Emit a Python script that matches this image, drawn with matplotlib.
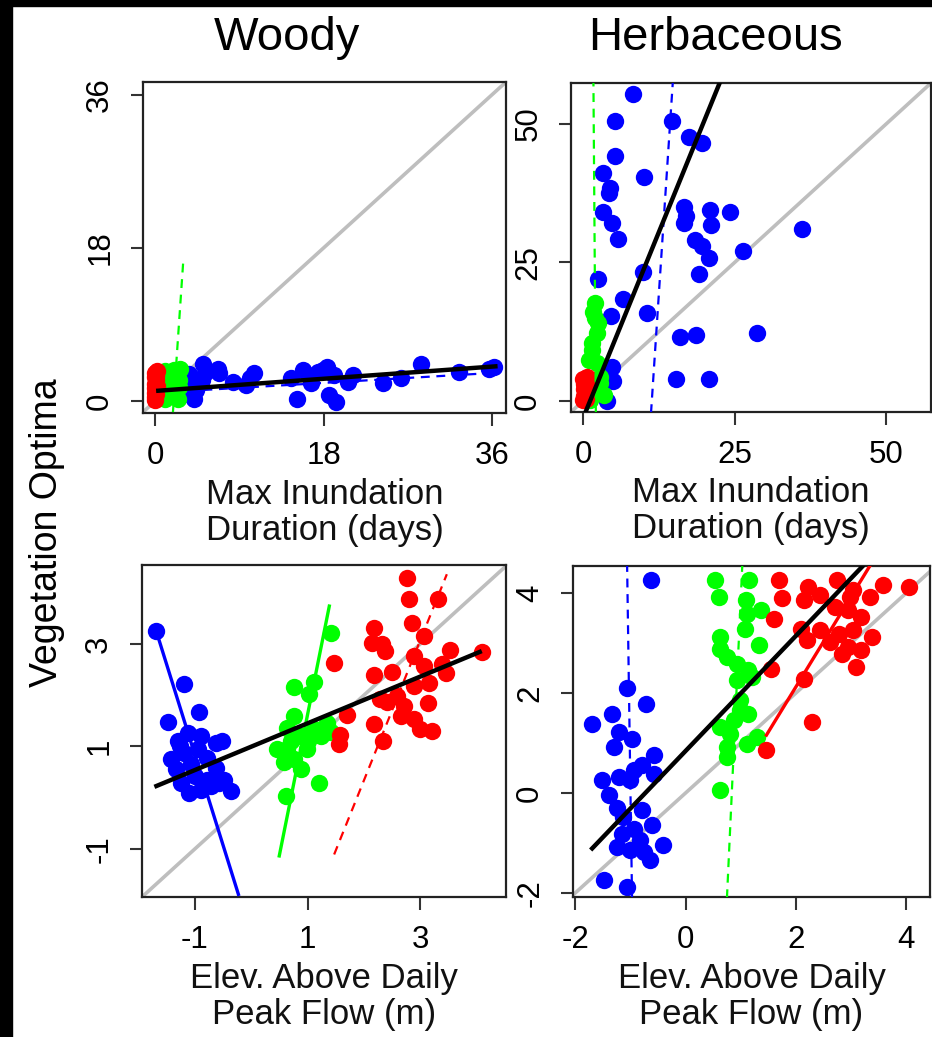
import matplotlib.pyplot as plt
from matplotlib.patches import Rectangle

plt.rcParams['font.family'] = ['Liberation Sans', 'DejaVu Sans']
plt.rcParams['axes.unicode_minus'] = False

BLUE = '#0000FF'
GREEN = '#00FF00'
RED = '#FF0000'
GREY = '#BEBEBE'

# --- Woody, max inundation duration (days) ---
wi_blue_x = [3.85, 4.4, 5.1, 5.3, 5.0, 6.7, 6.8, 8.3, 9.7, 10.6, 10.1, 14.5, 15.2, 15.8, 16.3, 16.7,
             17.4, 17.9, 18.4, 18.6, 19.3, 19.1, 20.6, 21.1, 24.3, 26.3, 28.4, 32.5, 36.25, 35.7,
             3.6, 3.9, 4.2]
wi_blue_y = [0.7, 1.3, 4.4, 3.3, 2.5, 3.8, 3.3, 2.3, 1.9, 3.3, 2.7, 2.7, 0.3, 3.6, 3.1, 2.1,
             3.4, 3.6, 4.0, 0.7, -0.1, 3.1, 2.3, 3.1, 2.1, 2.7, 4.4, 3.4, 4.0, 3.8,
             3.2, 2.0, 0.2]
wi_green_x = [1.0, 1.2, 1.5, 1.8, 2.0, 2.3, 2.6, 1.1, 1.4, 1.7, 2.1, 2.5, 1.3, 1.9, 2.4, 2.7]
wi_green_y = [0.3, 1.0, 2.0, 3.0, 3.7, 3.2, 2.5, 3.5, 0.6, 1.5, 0.9, 1.7, 2.7, 2.2, 0.2, 3.8]
wi_red_x = [0, 0, 0, 0, 0, 0.1, 0.1, 0.2, 0, 0.1, 0, 0.2]
wi_red_y = [0.1, 0.5, 1.0, 1.5, 2.0, 2.5, 3.0, 3.5, 3.3, 0.8, 2.8, 1.8]
# fitted lines: ([x0, x1], [y0, y1])
wi_fit_all = ([0.1, 36.6], [1.2, 4.1])
wi_fit_blue = ([3.5, 36.0], [1.2, 3.3])
wi_fit_green = ([1.9, 3.0], [-1.3, 16.4])

# --- Herbaceous, max inundation duration (days) ---
hi_blue_x = [8.3, 5.2, 14.6, 17.5, 19.6, 5.2, 3.25, 10.1, 4.5, 4.3, 16.6, 21.0, 24.3, 3.25, 16.9,
             4.7, 21.1, 16.6, 36.1, 5.7, 18.5, 19.6, 20.7, 26.3, 9.8, 19.1, 2.4, 6.65, 10.5, 4.6,
             28.7, 18.6, 16.0, 15.3, 20.7, 4.7, 4.9, 3.9]
hi_blue_y = [55.4, 50.6, 50.6, 47.6, 46.5, 44.2, 41.2, 40.5, 38.4, 37.6, 35.1, 34.5, 34.1, 34.1, 33.3,
             32.1, 31.8, 32.1, 31.0, 29.2, 29.1, 27.9, 25.8, 27.1, 23.2, 22.9, 22.1, 18.4, 15.9, 15.3,
             12.3, 11.9, 11.5, 3.9, 4.0, 6.2, 3.6, 0.0]
hi_green_x = [2.0, 1.7, 2.5, 2.3, 1.4, 0.9, 2.3, 2.8, 3.4, 1.7, 1.1, 2.8, 1.5, 2.0]
hi_green_y = [17.6, 16.1, 14.0, 12.2, 9.2, 7.4, 6.8, 3.2, 1.1, 1.9, 0.2, 4.4, 10.5, 15.0]
hi_red_x = [0.0, 0.2, 0.4, 0.1, 0.5, 0.3, 0.0, 0.6, 0.2, 0.4]
hi_red_y = [0.1, 0.8, 1.5, 2.2, 2.8, 3.4, 4.0, 4.3, 3.0, 0.4]
hi_fit_all = ([0.33, 22.6], [-2.2, 57.6])
hi_fit_blue = ([11.2, 14.8], [-2.2, 57.6])
hi_fit_green = ([2.1, 1.7], [-2.2, 57.6])

# --- Woody, elevation above daily peak flow (m) ---
we_blue_x = [-1.69, -1.2, -0.92, -1.48, -1.30, -1.12, -0.89, -0.63, -0.52, -1.42, -1.19, -0.95, -0.78,
             -1.34, -1.07, -0.63, -1.25, -1.1, -0.89, -0.71, -0.57, -0.36, -1.0, -0.78, -0.49, -1.27]
we_blue_y = [3.26, 2.22, 1.67, 1.47, 1.10, 1.26, 1.2, 1.07, 1.1, 0.75, 0.88, 0.94, 0.78,
             0.56, 0.65, 0.57, 0.29, 0.09, 0.15, 0.22, 0.29, 0.12, 0.42, 0.35, 0.35, 1.0]
we_green_x = [1.41, 0.76, 1.11, 1.02, 0.76, 0.64, 0.46, 0.64, 0.88, 1.11, 1.35, 1.41, 1.23, 0.99,
              0.76, 0.88, 0.58, 1.2, 0.61, 1.0, 0.7]
we_green_y = [3.22, 2.15, 2.25, 2.02, 1.59, 1.36, 0.94, 0.94, 1.2, 1.33, 1.46, 1.29, 1.2, 0.94,
              0.75, 0.56, 0.69, 0.29, 0.03, 1.1, 1.1]
we_red_x = [2.76, 2.79, 3.32, 2.85, 2.17, 3.07, 2.14, 2.32, 2.38, 1.47, 2.88, 3.53, 4.09, 2.17, 2.49,
            3.07, 3.39, 3.45, 3.16, 2.88, 2.59, 2.29, 3.13, 1.7, 2.65, 2.88, 2.17, 3.0, 3.21, 1.58,
            1.55, 2.34, 2.71, 2.41]
we_red_y = [4.29, 3.87, 3.87, 3.41, 3.31, 3.15, 3.02, 2.99, 2.86, 2.63, 2.76, 2.89, 2.84, 2.4, 2.46,
            2.56, 2.6, 2.43, 2.24, 2.17, 1.98, 1.92, 1.85, 1.62, 1.59, 1.53, 1.43, 1.33, 1.3, 1.23,
            1.04, 1.1, 1.79, 1.86]
we_fit_all = ([-1.72, 4.09], [0.21, 2.86])
we_fit_blue = ([-1.69, -0.22], [3.26, -1.92])
we_fit_green = ([0.49, 1.39], [-1.17, 3.77])
we_fit_red = ([1.47, 3.47], [-1.11, 4.36])

# --- Herbaceous, elevation above daily peak flow (m) ---
he_blue_x = [-0.62, -1.06, -0.72, -1.69, -1.33, -1.21, -0.97, -1.30, -0.58, -0.79, -0.94, -1.51,
             -1.21, -1.0, -0.58, -1.39, -1.24, -0.79, -1.14, -0.61, -1.15, -0.94, -1.24, -1.0,
             -0.76, -0.40, -0.64, -1.48, -1.06, -0.82]
he_blue_y = [4.27, 2.11, 1.79, 1.39, 1.59, 1.22, 1.09, 0.93, 0.76, 0.56, 0.46, 0.26,
             0.33, 0.26, 0.39, -0.04, -0.3, -0.34, -0.47, -0.64, -0.81, -0.71, -1.07, -1.14,
             -1.17, -1.04, -1.34, -1.74, -1.87, -0.94]
he_green_x = [0.54, 1.15, 0.6, 1.09, 1.36, 1.11, 1.08, 0.63, 1.33, 0.63, 0.75, 0.93, 1.14, 0.93,
              1.2, 0.99, 1.14, 0.87, 0.63, 0.81, 1.12, 1.3, 0.75, 0.75, 0.63, 0.99]
he_green_y = [4.27, 4.26, 3.93, 3.86, 3.66, 3.59, 3.29, 3.13, 2.96, 2.89, 2.73, 2.59, 2.46, 2.26,
              2.33, 1.86, 1.59, 1.46, 1.33, 1.19, 0.99, 1.13, 0.93, 0.73, 0.06, 1.66]
he_red_x = [1.69, 2.75, 4.05, 2.21, 3.57, 1.75, 2.14, 2.44, 3.04, 3.34, 2.7, 2.94, 1.6, 3.18, 2.09,
            2.44, 2.78, 2.2, 2.62, 3.04, 3.38, 2.94, 3.18, 2.84, 3.08, 1.54, 2.14, 2.3, 1.45, 2.98]
he_red_y = [4.27, 4.27, 4.13, 4.13, 4.16, 3.9, 3.86, 3.96, 4.06, 3.93, 3.73, 3.66, 3.49, 3.53, 3.29,
            3.26, 3.19, 3.06, 3.03, 3.26, 3.13, 2.93, 2.86, 2.79, 2.53, 2.49, 2.29, 1.43, 0.87, 3.93]
he_fit_all = ([-1.72, 3.23], [-1.14, 4.56])
he_fit_blue = ([-1.06, -0.97], [4.6, -2.1])
he_fit_green = ([1.03, 0.75], [4.6, -2.1])
he_fit_red = ([1.45, 3.35], [1.13, 4.56])

TICK = 22.5
LAB = 25
MS = 12.5
SOLID = '-'
DASH = (0, (4, 3))

fig = plt.figure(figsize=(9.32, 10.37), dpi=100, facecolor='white')
W, H = 932.0, 1037.0


def box(l, t, r, b):
    return [l / W, 1 - b / H, (r - l) / W, (b - t) / H]


def panel(rect, lims, ticks, xlabel):
    ax = fig.add_axes(rect)
    ax.set_xlim(lims[0])
    ax.set_ylim(lims[1])
    ax.set_xticks(ticks[0])
    ax.set_yticks(ticks[1])
    ax.tick_params(length=9, width=1.5, pad=11, labelsize=TICK, color='#333333')
    for lab in ax.get_yticklabels():
        lab.set_rotation(90)
        lab.set_va('center')
    for s in ax.spines.values():
        s.set_linewidth(1.6)
        s.set_color('#222222')
    ax.axline((0, 0), (1, 1), color=GREY, lw=2.6, zorder=1)
    ax.set_xlabel(xlabel, fontsize=LAB, linespacing=1.12, color='#111111')
    ax.xaxis.set_label_coords(0.5, -0.195)
    return ax


def dots(ax, x, y, c):
    ax.plot(x, y, 'o', color=c, ms=MS, mew=0, zorder=2)


def fit(ax, line, c, ls, lw):
    ax.plot(line[0], line[1], color=c, ls=ls, lw=lw, zorder=3, solid_capstyle='butt')


inund = 'Max Inundation\nDuration (days)'
elev = 'Elev. Above Daily\nPeak Flow (m)'

# woody inundation
ax1 = panel(box(143, 82, 506, 413), ((-1.3, 37.5), (-1.4, 37.5)),
            ([0, 18, 36], [0, 18, 36]), inund)
dots(ax1, wi_blue_x, wi_blue_y, BLUE)
dots(ax1, wi_green_x, wi_green_y, GREEN)
dots(ax1, wi_red_x, wi_red_y, RED)
fit(ax1, wi_fit_blue, BLUE, DASH, 1.6)
fit(ax1, wi_fit_green, GREEN, DASH, 1.6)
fit(ax1, wi_fit_all, 'black', SOLID, 3.2)

# herbaceous inundation
ax2 = panel(box(571, 83, 931, 412), ((-2.0, 57.4), (-2.0, 57.4)),
            ([0, 25, 50], [0, 25, 50]), inund)
dots(ax2, hi_blue_x, hi_blue_y, BLUE)
dots(ax2, hi_green_x, hi_green_y, GREEN)
dots(ax2, hi_red_x, hi_red_y, RED)
fit(ax2, hi_fit_blue, BLUE, DASH, 1.6)
fit(ax2, hi_fit_green, GREEN, DASH, 1.6)
fit(ax2, hi_fit_all, 'black', SOLID, 3.2)

# woody elevation
ax3 = panel(box(142, 565, 506, 897), ((-1.94, 4.52), (-1.94, 4.54)),
            ([-1, 1, 3], [-1, 1, 3]), elev)
dots(ax3, we_blue_x, we_blue_y, BLUE)
dots(ax3, we_green_x, we_green_y, GREEN)
dots(ax3, we_red_x, we_red_y, RED)
fit(ax3, we_fit_blue, BLUE, SOLID, 2.4)
fit(ax3, we_fit_green, GREEN, SOLID, 2.4)
fit(ax3, we_fit_red, RED, DASH, 1.6)
fit(ax3, we_fit_all, 'black', SOLID, 3.2)

# herbaceous elevation
ax4 = panel(box(573, 566, 930, 897), ((-2.04, 4.43), (-2.08, 4.54)),
            ([-2, 0, 2, 4], [-2, 0, 2, 4]), elev)
dots(ax4, he_blue_x, he_blue_y, BLUE)
dots(ax4, he_green_x, he_green_y, GREEN)
dots(ax4, he_red_x, he_red_y, RED)
fit(ax4, he_fit_blue, BLUE, DASH, 1.6)
fit(ax4, he_fit_green, GREEN, DASH, 1.6)
fit(ax4, he_fit_red, RED, SOLID, 2.4)
fit(ax4, he_fit_all, 'black', SOLID, 3.2)

fig.text(287 / W, 1 - 50 / H, 'Woody', fontsize=34, ha='center', va='baseline')
fig.text(715 / W, 1 - 50 / H, 'Herbaceous', fontsize=34, ha='center', va='baseline')
fig.text(47 / W, 1 - 533 / H, 'Vegetation Optima', fontsize=27, rotation=90,
         ha='center', va='center')

# dark frame along the top and left edges
fig.patches.append(Rectangle((0, 0), 12 / W, 1, transform=fig.transFigure, color='black'))
fig.patches.append(Rectangle((0, 1 - 6 / H), 1, 6 / H, transform=fig.transFigure, color='black'))

plt.savefig('out.png', dpi=100, facecolor='white')
